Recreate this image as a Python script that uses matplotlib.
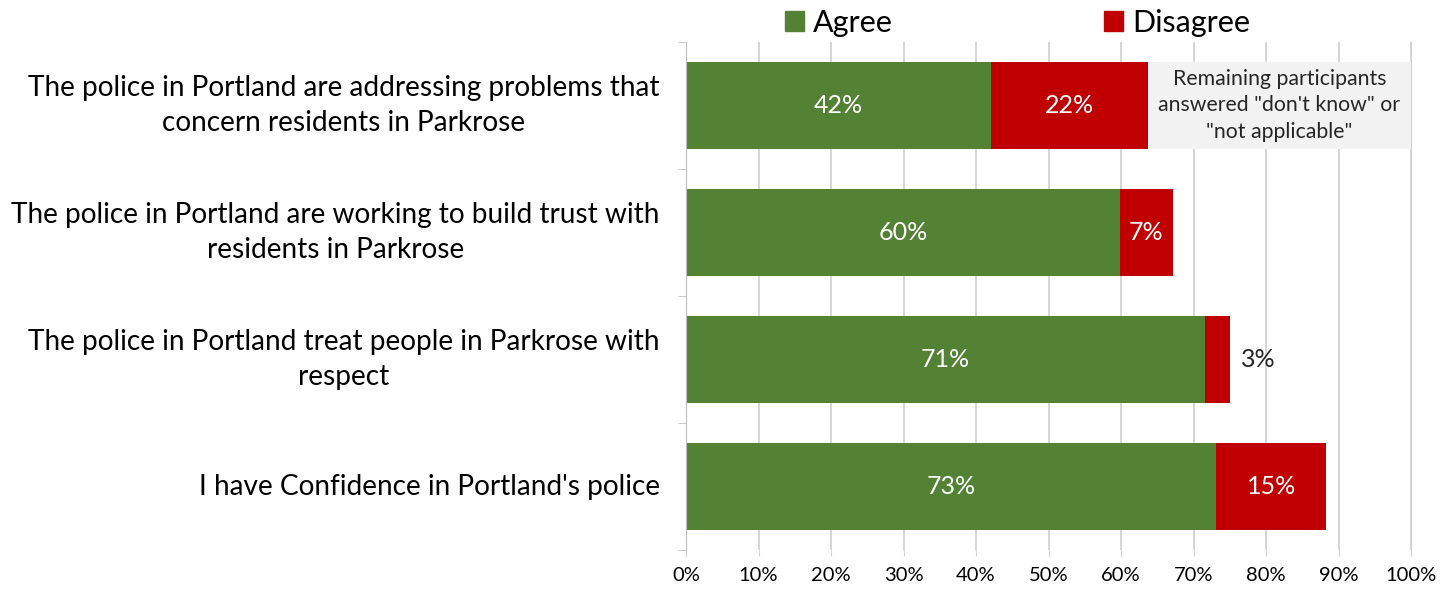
import numpy as np
import matplotlib.pyplot as plt
from matplotlib.patches import Patch

plt.rcParams['font.family'] = ['Lato', 'DejaVu Sans']

statements = [
    "The police in Portland are addressing problems that\nconcern residents in Parkrose",
    "The police in Portland are working to build trust with\nresidents in Parkrose",
    "The police in Portland treat people in Parkrose with\nrespect",
    "I have Confidence in Portland's police",
]
agree = [42.1, 59.8, 71.6, 73.1]
disagree = [21.6, 7.4, 3.4, 15.2]
agree_labels = ["42%", "60%", "71%", "73%"]
disagree_labels = ["22%", "7%", "3%", "15%"]
note = 'Remaining participants\nanswered "don\'t know" or\n"not applicable"'

green = '#548235'
red = '#C00000'

fig = plt.figure(figsize=(14.56, 5.93), dpi=100)
ax = fig.add_axes([0.4712, 0.0725, 0.4979, 0.8567])

y = np.arange(len(statements))
ax.barh(y, agree, height=0.68, color=green, zorder=2)
ax.barh(y, disagree, left=agree, height=0.68, color=red, zorder=2)

# grey note box in the blank space of the first bar
ax.barh(y[0], 100 - agree[0] - disagree[0], left=agree[0] + disagree[0],
        height=0.68, color='#f2f2f2', zorder=2)
ax.text((agree[0] + disagree[0] + 100) / 2, y[0], note, ha='center', va='center',
        fontsize=15.3, color='#262626', zorder=3, linespacing=1.4)

for i in y:
    ax.text(agree[i] / 2, i, agree_labels[i], ha='center', va='center',
            color='white', fontsize=18, zorder=3)
    if disagree[i] < 5:
        ax.text(agree[i] + disagree[i] + 1.6, i, disagree_labels[i], ha='left',
                va='center', color='#262626', fontsize=18, zorder=3)
    else:
        ax.text(agree[i] + disagree[i] / 2, i, disagree_labels[i], ha='center',
                va='center', color='white', fontsize=18, zorder=3)

ax.set_xlim(0, 100)
ax.set_ylim(len(statements) - 0.5, -0.5)
ax.set_xticks(np.arange(0, 101, 10))
ax.set_xticklabels([f'{v}%' for v in range(0, 101, 10)], fontsize=14.5)
ax.set_yticks(y)
ax.set_yticklabels(statements, fontsize=20.2, ha='right', va='center',
                   multialignment='center', linespacing=1.45)
ax.tick_params(axis='y', length=0, pad=19)
ax.set_yticks(np.arange(-0.5, len(statements), 1), minor=True)
ax.tick_params(axis='y', which='minor', length=6, color='#bfbfbf')
ax.tick_params(axis='x', length=4, color='#d0d0d0', pad=8)

ax.grid(axis='x', color='#d0d0d0', linewidth=1.2, zorder=0)
for s in ['top', 'bottom']:
    ax.spines[s].set_visible(False)
ax.spines['left'].set_color('#bfbfbf')
ax.spines['right'].set_color('#d0d0d0')

handles = [Patch(color=green, label='Agree'), Patch(color=red, label='Disagree')]
fig.legend(handles=handles, loc='center', bbox_to_anchor=(0.699, 0.962), ncol=2,
           frameon=False, fontsize=22, handlelength=0.62, handleheight=0.62,
           handletextpad=0.3, columnspacing=6.9)

fig.savefig('out.png', dpi=100)
